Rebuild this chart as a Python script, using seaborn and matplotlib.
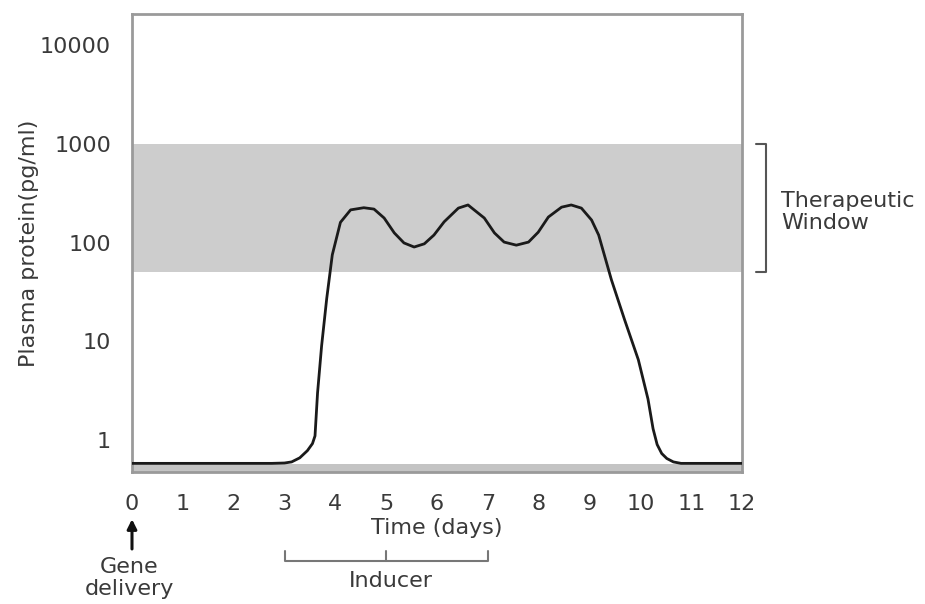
import matplotlib
matplotlib.use("Agg")
import matplotlib.pyplot as plt
import seaborn as sns
import pandas as pd

# ---- data ----
days = [0.0, 1.0, 2.0, 2.75, 3.0, 3.14, 3.3, 3.45, 3.55, 3.6, 3.65, 3.73, 3.83,
        3.94, 4.1, 4.3, 4.56, 4.76, 4.96, 5.16, 5.35, 5.55, 5.75, 5.94, 6.14,
        6.42, 6.61, 6.73, 6.93, 7.13, 7.32, 7.56, 7.8, 7.99, 8.19, 8.45, 8.64,
        8.84, 9.04, 9.18, 9.43, 9.69, 9.96, 10.15, 10.25, 10.33, 10.42, 10.52,
        10.65, 10.8, 11.0, 12.0]
protein = [0.58, 0.58, 0.58, 0.58, 0.585, 0.6, 0.66, 0.78, 0.92, 1.1, 3.0, 9.0, 27,
           75, 160, 214, 225, 218, 177, 125, 99, 90, 97, 119, 162,
           223, 240, 214, 177, 125, 101, 94, 101, 127, 181, 228, 240,
           223, 169, 119, 42, 16.5, 6.5, 2.6, 1.3, 0.9, 0.73, 0.65,
           0.6, 0.58, 0.58, 0.58]

yticks = [1, 10, 100, 1000, 10000]
ytick_labels = ["1", "10", "100", "1000", "10000"]
xticks = list(range(0, 13))
window_low, window_high = 50, 1000
inducer_days = [3, 5, 7]

df = pd.DataFrame({"Time (days)": days, "Plasma protein": protein})

sns.set_style("white")
plt.rcParams["font.family"] = ["DejaVu Sans"]
FS = 16
TXT = "#3a3a3a"
SP = "#9a9a9a"

fig = plt.figure(figsize=(9.25, 6.04), dpi=100)
ax = fig.add_axes([0.1427, 0.2185, 0.6595, 0.7583])

ax.set_yscale("log")
ax.set_xlim(0, 12)
ax.set_ylim(0.474, 20600)

# therapeutic window band
ax.axhspan(window_low, window_high, color="#cdcdcd", lw=0, zorder=0)
# light band at the bottom under the baseline
ax.axhspan(0.474, 0.565, color="#c4c4c4", lw=0, zorder=0)

sns.lineplot(data=df, x="Time (days)", y="Plasma protein", ax=ax,
             color="#1a1a1a", lw=2.0, zorder=3)

ax.set_yticks(yticks)
ax.set_yticklabels(ytick_labels)
ax.yaxis.set_minor_locator(matplotlib.ticker.NullLocator())
ax.set_xticks(xticks)
ax.set_xticklabels([str(t) for t in xticks])
ax.tick_params(axis="both", which="major", labelsize=FS, colors=SP,
               labelcolor=TXT, length=7, width=1.2, direction="out")
ax.tick_params(axis="x", pad=9)
ax.tick_params(axis="y", pad=8)

for s in ax.spines.values():
    s.set_color(SP)
    s.set_linewidth(2)

ax.set_xlabel("Time (days)", fontsize=FS, color=TXT, labelpad=3)
ax.set_ylabel("Plasma protein(pg/ml)", fontsize=FS, color=TXT, labelpad=1)

# therapeutic window bracket
bx0, bx1 = 12.28, 12.48
ax.plot([bx0, bx1, bx1, bx0], [window_high, window_high, window_low, window_low],
        color="#555555", lw=1.5, clip_on=False)
ax.text(12.77, 205, "Therapeutic\nWindow", fontsize=FS, color=TXT,
        ha="left", va="center", linespacing=1.15)

# gene delivery arrow and label
xt = ax.get_xaxis_transform()
ax.annotate("", xy=(0, -0.103), xytext=(0, -0.168), xycoords=xt, textcoords=xt,
            arrowprops=dict(arrowstyle="-|>", color="#111111", lw=2.2,
                            mutation_scale=14, shrinkA=0, shrinkB=0),
            annotation_clip=False)
ax.text(-0.05, -0.232, "Gene\ndelivery", transform=xt, fontsize=FS, color=TXT,
        ha="center", va="center", linespacing=1.1)

# inducer bracket
ax.plot([inducer_days[0], inducer_days[0], inducer_days[-1], inducer_days[-1]],
        [-0.172, -0.194, -0.194, -0.172], transform=xt, color="#777777",
        lw=1.5, clip_on=False)
ax.plot([inducer_days[1], inducer_days[1]], [-0.194, -0.172], transform=xt,
        color="#777777", lw=1.5, clip_on=False)
ax.text(5.1, -0.238, "Inducer", transform=xt, fontsize=FS, color=TXT,
        ha="center", va="center")

fig.savefig("out.png", dpi=100)
